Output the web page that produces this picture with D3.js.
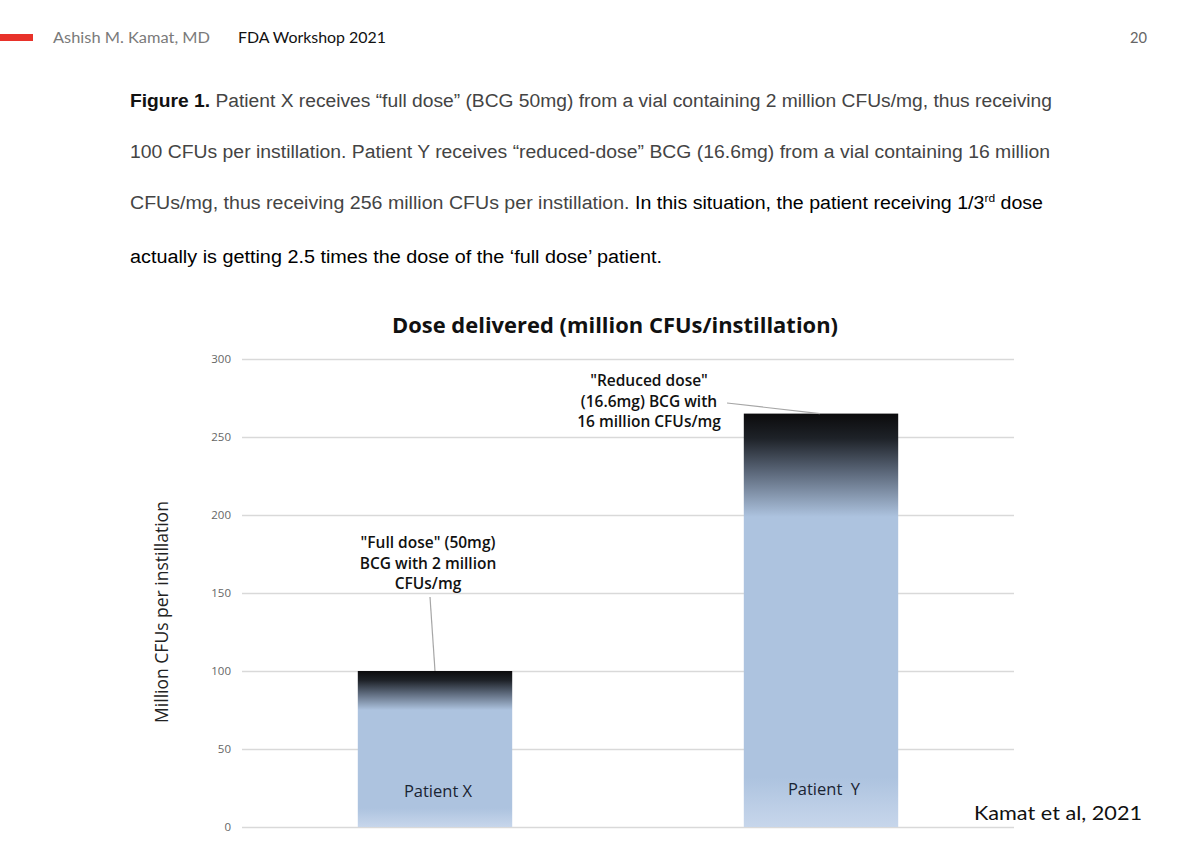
<!DOCTYPE html>
<html><head><meta charset="utf-8">
<script src="https://cdn.jsdelivr.net/npm/d3@7"></script>
<style>body{margin:0;background:#fff}svg{display:block}</style>
</head><body>
<script>
const categories = ["Patient X", "Patient  Y"];
const values = [100, 265];
const yTicks = [0, 50, 100, 150, 200, 250, 300];
const annotations = [
  ["\"Full dose\" (50mg)", "BCG with 2 million", "CFUs/mg"],
  ["\"Reduced dose\"", "(16.6mg) BCG with", "16 million CFUs/mg"]
];
const chartTitle = "Dose delivered (million CFUs/instillation)";
const yLabel = "Million CFUs per instillation";

const W = 1200, H = 863;
const svg = d3.select("body").append("svg").attr("width", W).attr("height", H);

// gradient
const defs = svg.append("defs");
const g = defs.append("linearGradient").attr("id","barGrad").attr("x1",0).attr("y1",0).attr("x2",0).attr("y2",1);
[[0,"#0b0b0c"],[0.06,"#1e2228"],[0.14,"#5a6678"],[0.25,"#adc3df"],[0.88,"#adc3df"],[1,"#c7d6eb"]]
  .forEach(([o,c]) => g.append("stop").attr("offset",o).attr("stop-color",c));

// header
const hf = "Lato, sans-serif";
function htext(x, len, fill, s){
  svg.append("text").attr("x",x).attr("y",43).attr("font-family",hf).attr("font-size",15.5).attr("fill",fill)
    .attr("textLength",len).attr("lengthAdjust","spacingAndGlyphs").text(s);
}
svg.append("rect").attr("x",0).attr("y",34).attr("width",33).attr("height",7).attr("fill","#e8322a");
htext(53, 157, "#7a7a7a", "Ashish M. Kamat, MD");
htext(238, 148, "#111", "FDA Workshop 2021");
htext(1130, 17, "#666", "20");

// paragraph
const pf = "'Liberation Sans Narrow', 'Liberation Sans', sans-serif";
function para(yy, len, parts){
  const t = svg.append("text").attr("x",130).attr("y",yy).attr("font-family",pf).attr("font-size",18)
    .attr("textLength",len).attr("lengthAdjust","spacingAndGlyphs");
  parts.forEach(p => {
    const s = t.append("tspan").text(p.t).attr("fill", p.c || "#444").attr("font-weight", p.b ? 700 : 400);
    if (p.sup) s.attr("font-size",11).attr("dy",-7);
    if (p.after) s.attr("dy",7);
  });
}
para(107, 922, [{t:"Figure 1.",b:true,c:"#111"},{t:" Patient X receives \u201cfull dose\u201d (BCG 50mg) from a vial containing 2 million CFUs/mg, thus receiving"}]);
para(158, 920, [{t:"100 CFUs per instillation. Patient Y receives \u201creduced-dose\u201d BCG (16.6mg) from a vial containing 16 million"}]);
para(209, 913, [{t:"CFUs/mg, thus receiving 256 million CFUs per instillation."},{t:" In this situation, the patient receiving 1/3",c:"#000"},{t:"rd",c:"#000",sup:true},{t:" dose",c:"#000",after:true}]);
para(263, 532, [{t:"actually is getting 2.5 times the dose of the \u2018full dose\u2019 patient.",c:"#000"}]);

// chart
const pLeft = 242, pRight = 1014, pTop = 359, pBottom = 827;
const y = d3.scaleLinear().domain([0,300]).range([pBottom, pTop]);
const x = d3.scaleBand().domain(categories).range([pLeft, pRight]).paddingInner(0.6).paddingOuter(0.3);

const cf = "'Open Sans', sans-serif";
svg.append("text").attr("x",615).attr("y",333).attr("text-anchor","middle").attr("font-family",cf)
  .attr("font-weight",700).attr("font-size",21).attr("fill","#111").attr("textLength",446).attr("lengthAdjust","spacingAndGlyphs").text(chartTitle);

const ax = svg.append("g").attr("transform",`translate(${pLeft},0)`)
  .call(d3.axisLeft(y).tickValues(yTicks).tickSize(-(pRight-pLeft)).tickPadding(11));
ax.select(".domain").remove();
ax.selectAll(".tick line").attr("stroke","#d9d9d9").attr("stroke-width",1.3);
ax.selectAll(".tick text").attr("font-family",cf).attr("font-size",11.5).attr("fill","#666");

svg.append("text").attr("transform",`translate(168,612) rotate(-90)`).attr("text-anchor","middle")
  .attr("font-family",cf).attr("font-size",17.5).attr("fill","#222").text(yLabel);

svg.selectAll(".bar").data(categories).enter().append("rect")
  .attr("x", d => x(d)).attr("width", x.bandwidth())
  .attr("y", (d,i) => y(values[i])).attr("height", (d,i) => pBottom - y(values[i]))
  .attr("fill","url(#barGrad)");

// category labels inside bars
const catY = [797, 795];
svg.selectAll(".cat").data(categories).enter().append("text")
  .attr("x", d => x(d) + x.bandwidth()/2 + 3).attr("y",(d,i)=>catY[i]).attr("text-anchor","middle")
  .attr("font-family",cf).attr("font-size",16.5).attr("fill","#1a2433").style("white-space","pre").text(d => d);

// annotations
const annCX = [428, 649];
const annY0 = [548, 386];
const leaders = [[[430,597],[435, y(values[0])]], [[727,403],[820, y(values[1])]]];
annotations.forEach((lines, i) => {
  const t = svg.append("text").attr("text-anchor","middle").attr("font-family",cf).attr("font-weight",600)
    .attr("font-size",15.5).attr("fill","#111");
  lines.forEach((l, j) => t.append("tspan").attr("x", annCX[i]).attr("y", annY0[i] + j*20.5).text(l));
  svg.append("line").attr("x1",leaders[i][0][0]).attr("y1",leaders[i][0][1]).attr("x2",leaders[i][1][0]).attr("y2",leaders[i][1][1])
    .attr("stroke","#a6a6a6").attr("stroke-width",1.2);
});

svg.append("text").attr("x",974).attr("y",820).attr("font-family",hf).attr("font-size",20).attr("fill","#111")
  .attr("textLength",168).attr("lengthAdjust","spacingAndGlyphs").text("Kamat et al, 2021");
</script>
</body></html>
